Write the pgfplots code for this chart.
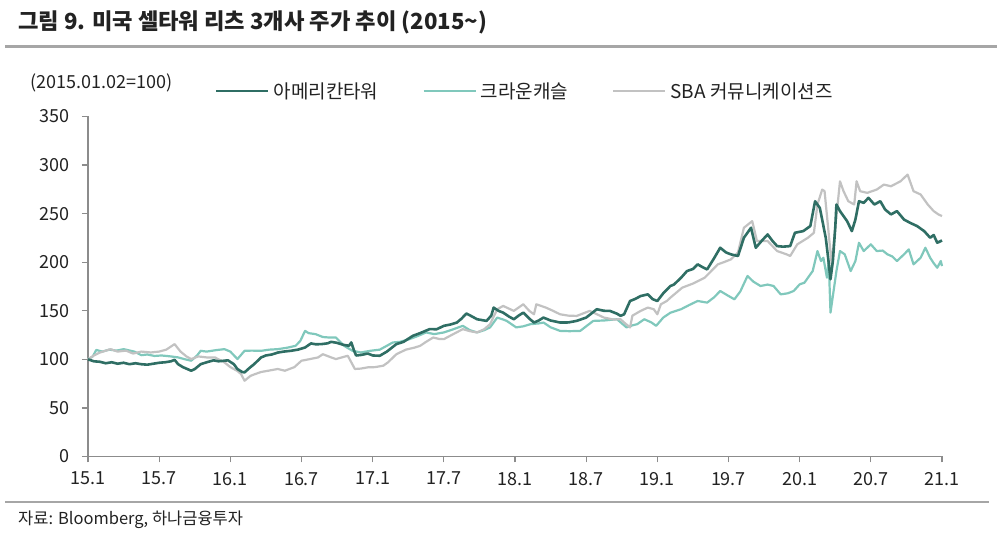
\documentclass[border=0pt]{standalone}
\usepackage{fontspec}
\setmainfont{Noto Sans CJK KR}
\usepackage{pgfplots}
\pgfplotsset{compat=1.18}
\definecolor{amt}{HTML}{2F6E64}
\definecolor{cci}{HTML}{80C8BC}
\definecolor{sba}{HTML}{C2C2C2}
\definecolor{axg}{HTML}{8C8C8C}
\definecolor{rule}{HTML}{A6A6A6}
\definecolor{txt}{HTML}{222222}
\begin{document}
\begin{tikzpicture}
\useasboundingbox (0pt,0pt) rectangle (997pt,533pt);
\node[anchor=west,inner sep=0pt,text=txt] at (18pt,511pt) {\fontsize{22.2}{26}\selectfont\bfseries 그림 9. 미국 셀타워 리츠 3개사 주가 추이 (2015\textasciitilde)};
\draw[rule,line width=3pt] (5pt,486.5pt) -- (997pt,486.5pt);
\draw[rule,line width=2pt] (5pt,31.3pt) -- (989pt,31.3pt);
\node[anchor=west,inner sep=0pt,text=txt] at (18pt,13pt) {\fontsize{16.5}{19}\selectfont 자료: Bloomberg, 하나금융투자};
\node[anchor=west,inner sep=0pt,text=txt] at (30pt,450.5pt) {\fontsize{18}{21}\selectfont (2015.01.02=100)};
\begin{axis}[
  at={(88pt,76.5pt)}, anchor=south west,
  scale only axis, width=854pt, height=340pt,
  xmin=0, xmax=72, ymin=0, ymax=350,
  axis x line=bottom, axis y line=left,
  axis line style={draw=axg, line width=1.5pt, -},
  tick align=outside,
  major tick length=6pt,
  tick style={draw=axg, line width=1.3pt},
  xtick={0,6,...,72},
  xticklabels={15.1,15.7,16.1,16.7,17.1,17.7,18.1,18.7,19.1,19.7,20.1,20.7,21.1},
  ytick={0,50,...,350},
  /pgf/number format/assume math mode=true,
  ticklabel style={font=\fontsize{18}{21}\selectfont, text=txt},
  xticklabel style={yshift=-6pt},
  yticklabel style={xshift=-9pt},
  clip=false,
  legend columns=3,
  legend style={at={(0.1487,1.075)}, anchor=west, draw=none, fill=none, inner sep=0pt,
    font=\fontsize{19}{22}\selectfont, text=txt,
    nodes={inner xsep=4pt, inner ysep=0pt},
    /tikz/every even column/.append style={column sep=40pt}},
  legend image code/.code={\draw[#1] (0pt,0pt) -- (52pt,0pt);},
]
\addlegendimage{amt, line width=2.4pt}
\addlegendentry{아메리칸타워}
\addlegendimage{cci, line width=2.4pt}
\addlegendentry{크라운캐슬}
\addlegendimage{sba, line width=2.4pt}
\addlegendentry{SBA 커뮤니케이션즈}

% Crown Castle
\addplot[cci, line width=2.2pt, line join=round, forget plot] coordinates {
(0,100)(0.4,103)(0.7,109.7)(1.2,108)(1.8,110)(2.4,109)(3,110.5)(3.9,108)(4.5,104.3)(5,105)(5.6,103.5)(6.2,104)(7,103)(7.6,102)(8.2,100)(8.7,98.6)(9.2,104)(9.5,108.8)(10,108)(10.8,109.5)(11.5,110.5)(12,108)(12.6,100.3)(13.2,108.8)(13.8,109)(14.6,108.8)(15.3,110)(16,110.5)(16.8,112)(17.5,113.9)(17.9,119)(18.3,129.3)(18.6,127)(19.2,125.9)(19.8,123)(20.3,122.5)(20.9,122.5)(21.6,113.9)(22.3,108.8)(23,107.1)(23.8,108.8)(24.6,110)(25.2,114)(25.7,117.4)(26.3,118)(27.1,120.8)(27.8,124)(28.5,127.7)(29.2,126)(30,127.7)(30.8,131)(31.6,134.5)(32.2,130)(32.8,127.7)(33.4,130)(33.9,132.9)(34.5,143)(35,141)(35.3,139.6)(36.1,132.9)(36.7,134)(37.3,136.2)(38,137)(38.4,137.9)(39,133)(39.8,129.3)(40.6,129)(41.5,129.3)(42,134)(42.6,139.6)(43.5,140)(44.6,141.3)(45.4,132.9)(45.9,135)(46.3,136.2)(46.9,141.3)(47.5,138)(47.9,134.5)(48.5,143)(49.1,148)(50,151.6)(50.7,156)(51.4,160.1)(52.2,158.4)(52.8,164)(53.3,170.4)(53.9,166)(54.5,161.8)(55,170)(55.6,185.8)(56.1,180)(56.7,175.5)(57.3,177)(57.8,175.5)(58.4,166.9)(59,168)(59.5,170.4)(60,177.2)(60.4,178.9)(60.9,187.5)(61.1,190.9)(61.5,211.5)(61.8,201.2)(62,204.6)(62.3,184.1)(62.45,201.2)(62.6,148.1)(62.9,173.8)(63.1,190.9)(63.4,211.5)(63.8,208.1)(64.3,190.9)(64.7,201.2)(65,220)(65.4,211.5)(66,218.4)(66.5,211.5)(67,212)(67.4,208.1)(67.8,206)(68.2,201.2)(68.8,208.1)(69.2,213.2)(69.6,197.8)(70.2,204.6)(70.6,214.9)(71,204.6)(71.3,199)(71.6,194.3)(71.9,201.2)(72,196)
};
% SBA
\addplot[sba, line width=2.2pt, line join=round, forget plot] coordinates {
(0,100)(0.5,104)(1,107)(1.9,110.5)(2.5,108)(3.2,109)(3.8,106)(4.5,108)(5.3,107.1)(6,108)(6.6,110)(7.3,115.7)(7.8,108)(8.3,103)(8.7,100.3)(9.3,103)(10,102)(10.7,102)(11.5,96.9)(12,92)(12.6,88)(12.9,84.9)(13.2,78)(13.7,83)(14.1,84.9)(14.6,87)(15.2,88.3)(16,90.1)(16.6,88.3)(17.4,92)(18,98.6)(18.6,100)(19.4,102)(19.8,105.3)(20.5,102)(20.9,100.3)(21.4,102)(21.9,103.7)(22.5,90.1)(23,90.5)(23.6,91.8)(24.2,92)(24.9,93.5)(25.3,97)(26,105.3)(26.8,110)(27.5,112)(28,113.9)(28.5,118)(29.1,122.5)(29.6,121)(30,120.8)(30.8,126)(31.6,131.1)(32.2,129)(32.8,127.7)(33.4,131)(33.9,136.2)(34.5,151.6)(35,155)(35.9,149.9)(36.7,156.7)(37.2,150)(37.6,146.4)(37.8,156.7)(38.6,153.3)(39.2,150)(39.8,146.4)(40.5,145)(41.2,144.7)(42.3,149.9)(43.5,143)(44.3,141)(44.9,141.3)(45.2,137.9)(45.7,132.9)(45.9,145)(46.6,149.9)(47.2,153.3)(47.7,151.6)(48,146.4)(48.3,156.7)(48.8,160.1)(49.1,163.5)(50.1,173.8)(51,178)(52,184.1)(53.1,197.8)(53.6,200)(54.2,202.9)(54.8,210)(55.3,235.5)(56,242.3)(56.4,221.8)(57.3,221.8)(58.1,211.5)(58.9,208.1)(59.2,206.4)(59.8,218.4)(60.7,225.2)(61.2,230.3)(61.5,259.4)(61.9,274.8)(62.1,273.1)(62.4,235.5)(62.7,197.8)(63,235.5)(63.4,283.3)(63.7,273.1)(64.1,262.8)(64.6,259.4)(64.8,283.3)(65.1,273.1)(65.7,271.4)(66.5,274.8)(67.1,279.9)(67.7,278.2)(68.5,283.3)(69.1,290.2)(69.6,273.1)(70.2,269.7)(70.8,259.4)(71.3,252.6)(71.7,249.2)(72,247.5)
};
% American Tower
\addplot[amt, line width=2.6pt, line join=round, forget plot] coordinates {
(0,100)(0.5,98)(1,97.5)(1.5,96)(2,97)(2.5,95.5)(3,96.5)(3.5,95)(4,96)(4.5,95)(5,94.5)(5.5,95.5)(6,96.5)(6.5,97)(7,98)(7.3,99.5)(7.6,95)(8,92)(8.7,88.3)(9,90)(9.5,95)(10,97)(10.6,99)(11,98)(11.8,99)(12.3,95)(12.6,90)(13,87)(13.2,86.6)(13.6,91)(14,95)(14.6,102)(15,104)(15.5,105)(16,107)(16.5,108)(17.1,108.8)(17.7,110)(18.3,112.2)(18.8,116.4)(19.2,115.5)(19.7,115.7)(20.2,116.5)(20.5,118)(21,117)(21.5,115)(22,114)(22.2,117.4)(22.4,110)(22.6,104)(23,104.5)(23.6,106)(24,104)(24.6,103.7)(25.2,108)(26,115.7)(26.6,118)(27.4,124.3)(28,127)(28.8,131.1)(29.4,131)(30,134.5)(30.6,136)(31.1,137.9)(31.5,142)(31.9,147.2)(32.4,144)(32.8,141.3)(33.6,139.6)(34,145)(34.2,153.3)(34.6,150)(35,148.1)(35.5,144)(35.9,141.3)(36.3,145)(36.7,148.1)(37.2,142)(37.6,137.9)(38,140)(38.4,143)(39,140)(39.8,137.9)(40.5,138)(41.2,139.6)(42,143)(42.9,151.6)(43.5,150)(44,149.9)(44.6,147)(44.9,144.8)(45.2,146.4)(45.7,160.1)(46.1,162)(46.6,165.2)(47.2,166.9)(47.6,162)(48,160.1)(48.5,168)(49.1,175.5)(49.4,177)(50,184)(50.5,190.9)(51,193)(51.4,197.8)(51.8,195)(52.2,192.6)(52.8,204.4)(53.3,214.9)(53.8,210)(54.2,208.1)(54.8,206.4)(55.3,225.2)(55.9,235.5)(56.3,214.9)(56.8,222)(57.3,228.6)(57.7,222)(58.1,216.6)(58.6,216)(59.2,216.6)(59.6,230.3)(60.3,232)(60.9,237.2)(61.3,262.8)(61.7,255.9)(62.2,225.2)(62.4,204.6)(62.6,182.5)(62.8,201.2)(63,235.5)(63.1,259.4)(63.4,252.6)(64,242.3)(64.4,232)(64.7,243.9)(65,262.8)(65.4,261.1)(65.8,266.3)(66.3,259.4)(66.8,262.8)(67.2,254.3)(67.7,249.2)(68.2,252.6)(68.8,243.9)(69.3,240.6)(69.9,237.2)(70.5,232)(71,225.2)(71.3,228)(71.6,220)(72,222.4)
};
\end{axis}
\end{tikzpicture}
\end{document}
